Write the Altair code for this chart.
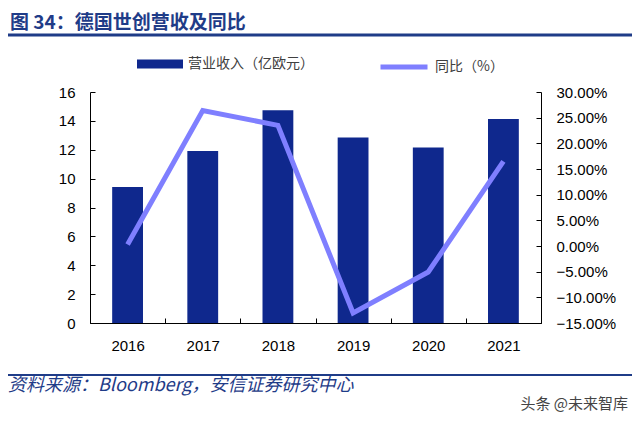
import altair as alt
import pandas as pd

# ---- data ----
years = ["2016", "2017", "2018", "2019", "2020", "2021"]
revenue = [9.42, 11.91, 14.73, 12.84, 12.15, 14.13]      # 营业收入（亿欧元）
yoy = [0.3, 26.4, 23.5, -13.05, -5.07, 16.5]             # 同比（%）
left_ticks = [0, 2, 4, 6, 8, 10, 12, 14, 16]
right_ticks = [-15, -10, -5, 0, 5, 10, 15, 20, 25, 30]

title_text = "图 34：德国世创营收及同比"
source_text = "资料来源：Bloomberg，安信证券研究中心"
watermark_text = "头条 @未来智库"
bar_label = "营业收入（亿欧元）"
line_label = "同比（%）"

NAVY = "#0F288D"
LAV = "#7F7FFF"
TITLE_BLUE = "#1F3C88"
CJK = "Noto Sans CJK SC"
LAT = "Liberation Sans"

df = pd.DataFrame({"year": years, "revenue": revenue, "yoy": yoy,
                   "s1": [bar_label] * 6, "s2": [line_label] * 6})

inward = alt.ExprRef(expr="-5")

x_enc = alt.X(
    "year:O",
    scale=alt.Scale(paddingInner=0, paddingOuter=0),
    axis=alt.Axis(title=None, labelAngle=0, labelFont=LAT, labelFontSize=15,
                  labelColor="black", domainColor="black", tickColor="black",
                  tickSize=inward, tickBand="extent", labelPadding=20),
)

bars = alt.Chart(df).mark_bar(width=alt.RelativeBandSize(0.41)).encode(
    x=x_enc,
    y=alt.Y("revenue:Q", scale=alt.Scale(domain=[0, 16], nice=False),
            axis=alt.Axis(values=left_ticks, orient="left", title=None, grid=False,
                          labelFont=LAT, labelFontSize=15, labelColor="black",
                          domainColor="black", tickColor="black", tickSize=inward,
                          labelPadding=20)),
    fill=alt.Fill("s1:N", scale=alt.Scale(domain=[bar_label], range=[NAVY]),
                  legend=alt.Legend(title=None, orient="none", legendX=47, legendY=-51,
                                    symbolType="M-1,-0.2L1,-0.2L1,0.2L-1,0.2Z",
                                    symbolSize=2116, symbolStrokeWidth=0,
                                    labelFont=CJK, labelFontSize=14, labelColor="#404040",
                                    labelOffset=5)),
)

line = alt.Chart(df).mark_line(strokeWidth=5).encode(
    x=x_enc,
    y=alt.Y("yoy:Q", scale=alt.Scale(domain=[-15, 30], nice=False),
            axis=alt.Axis(values=right_ticks, orient="right", title=None, grid=False,
                          labelExpr="format(datum.value, '.2f') + '%'",
                          labelFont=LAT, labelFontSize=15, labelColor="black",
                          domainColor="black", tickColor="black", tickSize=inward,
                          labelPadding=20)),
    stroke=alt.Stroke("s2:N", scale=alt.Scale(domain=[line_label], range=[LAV]),
                      legend=alt.Legend(title=None, orient="none", legendX=288, legendY=-51,
                                        symbolType="stroke", symbolSize=2209,
                                        symbolStrokeWidth=5,
                                        labelFont=CJK, labelFontSize=14, labelColor="#404040",
                                        labelOffset=5)),
)


def text_layer(txt, x, y, size, color, align="left", weight="normal", style="normal", font=CJK):
    return alt.Chart(pd.DataFrame({"t": [txt]})).mark_text(
        align=align, baseline="middle", fontSize=size, color=color,
        fontWeight=weight, fontStyle=style, font=font
    ).encode(x=alt.value(x), y=alt.value(y), text="t:N")


def hrule(y, width, color):
    return alt.Chart(pd.DataFrame({"a": [0]})).mark_rule(color=color, strokeWidth=width).encode(
        x=alt.value(-82), x2=alt.value(542), y=alt.value(y))


title = text_layer(title_text, -80, -69, 19, TITLE_BLUE, weight="bold")
head_rule = hrule(-57, 3, TITLE_BLUE)
foot_rule = hrule(283, 2, TITLE_BLUE)
source = text_layer(source_text, -82, 294, 18, TITLE_BLUE, style="italic")
mark = text_layer(watermark_text, 538, 312, 15, "#444444", align="right")

chart = alt.layer(bars, line, title, head_rule, foot_rule, source, mark).resolve_scale(
    y="independent", fill="independent", stroke="independent"
).properties(
    width=451, height=231,
    autosize=alt.AutoSizeParams(type="none"),
    padding={"left": 82, "top": 84, "right": 91, "bottom": 92},
    background="white",
).configure_view(stroke=None)

chart.save("out.html", embed_options={"renderer": "svg", "actions": False})
